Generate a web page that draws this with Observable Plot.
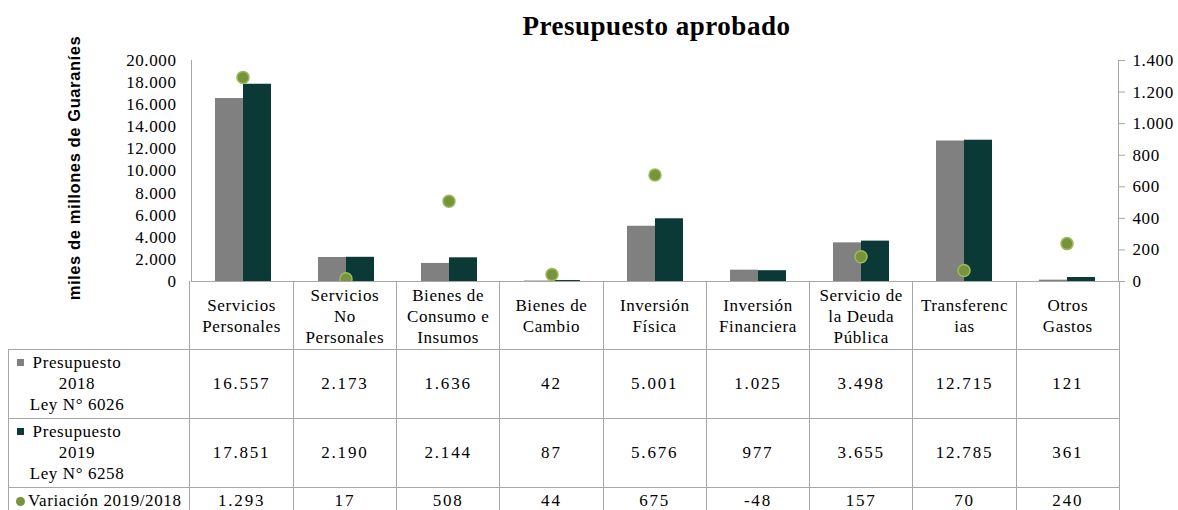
<!DOCTYPE html>
<html><head><meta charset="utf-8">
<script src="https://cdn.jsdelivr.net/npm/d3@7"></script>
<script src="https://cdn.jsdelivr.net/npm/@observablehq/plot@0.6"></script>
<style>
body{margin:0;background:#fff;}
#wrap{position:relative;width:1178px;height:510px;overflow:hidden;font-family:"Liberation Serif","Times New Roman",serif;color:#000;}
#title{position:absolute;left:189px;width:935px;top:13px;text-align:center;font-weight:bold;font-size:27px;line-height:26px;letter-spacing:0.5px;}
#chart{position:absolute;left:0;top:45px;}
#chart svg{overflow:visible;}
table{position:absolute;top:281px;left:8px;border-collapse:collapse;table-layout:fixed;font-family:"Liberation Serif","Times New Roman",serif;font-size:17px;line-height:21px;letter-spacing:0.6px;}
td{border:1px solid #a6a6a6;text-align:center;vertical-align:middle;padding:0;white-space:nowrap;}
td.blank{border-top:none;border-left:none;}
tr.head td{border-top:none;padding-top:3px;}
td.num{letter-spacing:1.8px;}
.leg{position:relative;margin-left:20px;width:96px;text-align:center;}
.sq{position:absolute;left:-12px;top:7px;width:7px;height:7px;}
td.legvar{text-align:left;padding-left:7px;}
.dotk{display:inline-block;width:9px;height:9px;border-radius:50%;background:#77933c;margin-right:3px;vertical-align:0px;}
</style></head><body>
<div id="wrap"><div id="title">Presupuesto aprobado</div><div id="chart"></div></div>
<script>
const categories = ["Servicios Personales","Servicios No Personales","Bienes de Consumo e Insumos","Bienes de Cambio","Inversión Física","Inversión Financiera","Servicio de la Deuda Pública","Transferencias","Otros Gastos"];
const headerLines = [["Servicios","Personales"],["Servicios","No","Personales"],["Bienes de","Consumo e","Insumos"],["Bienes de","Cambio"],["Inversión","Física"],["Inversión","Financiera"],["Servicio de","la Deuda","Pública"],["Transferenc","ias"],["Otros","Gastos"]];
const series = ["Presupuesto 2018 Ley N° 6026","Presupuesto 2019 Ley N° 6258"];
const seriesLines = [["Presupuesto","2018","Ley N° 6026"],["Presupuesto","2019","Ley N° 6258"]];
const variationLabel = "Variación 2019/2018";
const values2018 = [16557, 2173, 1636, 42, 5001, 1025, 3498, 12715, 121];
const values2019 = [17851, 2190, 2144, 87, 5676, 977, 3655, 12785, 361];
const variation = [1293, 17, 508, 44, 675, -48, 157, 70, 240];
const leftTicks = [0, 2000, 4000, 6000, 8000, 10000, 12000, 14000, 16000, 18000, 20000];
const rightTicks = [0, 200, 400, 600, 800, 1000, 1200, 1400];
const colors = ["#808080", "#0b3a36"];
const dotFill = "#77933c", dotStroke = "#9bbb59", axisGrey = "#a6a6a6";

const loc = d3.formatLocale({decimal: ",", thousands: ".", grouping: [3], currency: ["", ""], minus: "-"});
const fmt = loc.format(",d");
const leftMax = leftTicks[leftTicks.length - 1], rightMax = rightTicks[rightTicks.length - 1];
const k = leftMax / rightMax;

const bars = [];
categories.forEach((c, i) => {
  bars.push({cat: c, serie: series[0], value: values2018[i]});
  bars.push({cat: c, serie: series[1], value: values2019[i]});
});
const dots = categories.map((c, i) => ({cat: c, v: variation[i]}));

const serif = '"Liberation Serif", "Times New Roman", serif';
const sans = '"Liberation Sans", Arial, sans-serif';

const chart = Plot.plot({
  width: 1178, height: 246,
  marginTop: 15, marginBottom: 10, marginLeft: 189, marginRight: 58,
  style: {fontFamily: serif, fontSize: "17px", color: "#000", background: "transparent", overflow: "visible", letterSpacing: "0.6px"},
  fx: {domain: categories, padding: 0, axis: null, label: null},
  x: {domain: series, paddingInner: 0, paddingOuter: 0.783, axis: null, label: null},
  y: {domain: [0, leftMax], label: null},
  color: {domain: series, range: colors},
  marks: [
    Plot.barY(bars, {fx: "cat", x: "serie", y: "value", fill: "serie"}),
    Plot.ruleY([0], {stroke: axisGrey}),
    Plot.frame({anchor: "left", facetAnchor: "left", stroke: axisGrey}),
    Plot.frame({anchor: "right", facetAnchor: "right", stroke: axisGrey}),
    Plot.axisY({anchor: "left", ticks: leftTicks, tickSize: 0, tickPadding: 15, tickFormat: fmt, label: null, fontFamily: serif}),
    Plot.axisY({anchor: "right", ticks: rightTicks.map(v => v * k), tickSize: 6, tickPadding: 8, stroke: axisGrey, fill: "#000", tickFormat: v => fmt(Math.round(v / k)), label: null, fontFamily: serif}),
    Plot.text(["miles de millones de Guaraníes"], {frameAnchor: "left", textAnchor: "middle", lineAnchor: "middle", rotate: -90, dx: -117, dy: -3, fontWeight: "bold", fontFamily: sans, fontSize: 16.5, facetAnchor: "left"}),
    Plot.dot(dots, {fx: "cat", y: d => d.v * k, r: 6, fill: dotFill, stroke: dotStroke, strokeWidth: 1.5, clip: true})
  ]
});
document.getElementById("chart").appendChild(chart);

// data table aligned with the fx band scale
const fx = chart.scale("fx");
const x0 = fx.range[0], step = fx.step;
const tableLeft = 8;
const table = document.createElement("table");
table.style.width = (fx.range[1] - tableLeft) + "px";
const cg = document.createElement("colgroup");
const c0 = document.createElement("col"); c0.style.width = (x0 - tableLeft) + "px"; cg.appendChild(c0);
categories.forEach(() => { const c = document.createElement("col"); c.style.width = step + "px"; cg.appendChild(c); });
table.appendChild(cg);

const head = document.createElement("tr"); head.className = "head"; head.style.height = "68px";
const blank = document.createElement("td"); blank.className = "blank"; head.appendChild(blank);
headerLines.forEach(lines => { const td = document.createElement("td"); td.innerHTML = lines.join("<br>"); head.appendChild(td); });
table.appendChild(head);

[values2018, values2019].forEach((vals, s) => {
  const tr = document.createElement("tr"); tr.style.height = "69px";
  const lt = document.createElement("td");
  lt.innerHTML = `<div class="leg"><span class="sq" style="background:${colors[s]}"></span>${seriesLines[s].join("<br>")}</div>`;
  tr.appendChild(lt);
  vals.forEach(v => { const td = document.createElement("td"); td.className = "num"; td.textContent = fmt(v); tr.appendChild(td); });
  table.appendChild(tr);
});
const tr3 = document.createElement("tr"); tr3.style.height = "26px";
const l3 = document.createElement("td"); l3.className = "legvar";
l3.innerHTML = `<span class="dotk"></span>${variationLabel}`;
tr3.appendChild(l3);
variation.forEach(v => { const td = document.createElement("td"); td.className = "num"; td.textContent = fmt(v); tr3.appendChild(td); });
table.appendChild(tr3);
document.getElementById("wrap").appendChild(table);
</script>
</body></html>
